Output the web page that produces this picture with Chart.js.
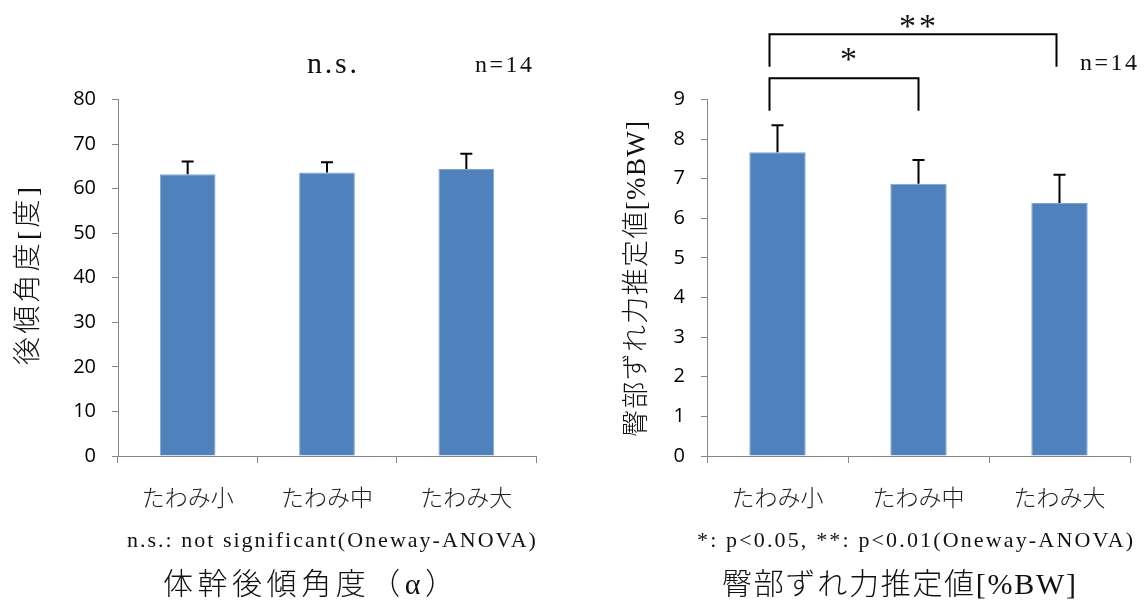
<!DOCTYPE html>
<html>
<head>
<meta charset="utf-8">
<script src="https://cdn.jsdelivr.net/npm/chart.js@4.4.1/dist/chart.umd.min.js"></script>
<style>
  html, body { margin: 0; padding: 0; background: #ffffff; }
  #wrap { position: relative; width: 1146px; height: 608px; overflow: hidden; }
  canvas { position: absolute; top: 0; }
</style>
</head>
<body>
<div id="wrap">
  <canvas id="angle" width="573" height="608" style="left:0"></canvas>
  <canvas id="shear" width="573" height="608" style="left:573px"></canvas>
</div>
<script>
// Conditions (seat sag) shared by both panels
const categories = ['たわみ小', 'たわみ中', 'たわみ大'];

// Trunk recline angle [deg]: mean and SD
const trunkAngleMean = [63.2, 63.6, 64.4];
const trunkAngleSD = [2.9, 2.3, 3.4];
const angleTickValues = [0, 10, 20, 30, 40, 50, 60, 70, 80];

// Estimated buttock shear force [%BW]: mean and SD
const shearMean = [7.67, 6.87, 6.39];
const shearSD = [0.68, 0.60, 0.71];
const shearTickValues = [0, 1, 2, 3, 4, 5, 6, 7, 8, 9];

// Significant pairs (category index from, to, mark)
const shearPairs = [[0, 2, '**'], [0, 1, '*']];

const BAR = '#4f81bd';
const BAR_EDGE = '#7ea3d3';
const AXIS = '#868686';
const SERIF = "'Liberation Serif', 'Noto Sans CJK JP', serif";
const CJK = "'Noto Sans CJK JP', 'Liberation Serif', sans-serif";

// Draw text stretched with letter spacing so it spans a given width
function drawSpaced(ctx, text, x, y, font, width, opts = {}) {
  ctx.save();
  ctx.font = font;
  ctx.fillStyle = opts.color || '#111';
  ctx.textBaseline = opts.baseline || 'alphabetic';
  ctx.textAlign = 'left';
  ctx.letterSpacing = '0px';
  const n = [...text].length;
  const w = ctx.measureText(text).width;
  const ls = width ? (width - w) / Math.max(n - 1, 1) : 0;
  ctx.letterSpacing = ls.toFixed(2) + 'px';
  if (opts.rotate) {
    ctx.translate(x, y);
    ctx.rotate(-Math.PI / 2);
    ctx.fillText(text, -width / 2, 0);
  } else {
    ctx.fillText(text, x, y);
  }
  ctx.restore();
}

// Upper error bars (mean + SD) with a short cap
const errorBars = {
  id: 'errorBars',
  afterDatasetsDraw(chart) {
    const ctx = chart.ctx;
    const ys = chart.scales.y;
    chart.data.datasets.forEach((ds, di) => {
      const meta = chart.getDatasetMeta(di);
      meta.data.forEach((bar, i) => {
        const top = ys.getPixelForValue(ds.data[i] + ds.sd[i]);
        ctx.save();
        ctx.strokeStyle = '#000';
        ctx.lineWidth = 2;
        ctx.beginPath();
        ctx.moveTo(bar.x, bar.y);
        ctx.lineTo(bar.x, top);
        ctx.moveTo(bar.x - 6, top);
        ctx.lineTo(bar.x + 6, top);
        ctx.stroke();
        ctx.restore();
      });
    });
  }
};

// Free text: axis title, sample size, footnote, panel caption
const notes = {
  id: 'notes',
  afterDraw(chart, args, o) {
    const ctx = chart.ctx;
    (o.items || []).forEach(it => drawSpaced(ctx, it.text, it.x, it.y, it.font, it.width, it));
  }
};

// Significance brackets between category pairs
const brackets = {
  id: 'brackets',
  afterDraw(chart, args, o) {
    const pairs = o.pairs || [];
    if (!pairs.length) return;
    const ctx = chart.ctx;
    const xs = chart.scales.x;
    pairs.forEach(([a, b, mark], k) => {
      const x1 = xs.getPixelForValue(a) - 8;
      const x2 = xs.getPixelForValue(b) - (k === 0 ? 3 : 0);
      const yTop = o.lineY[k];
      const yEnd = yTop + o.drop;
      ctx.save();
      ctx.strokeStyle = '#000';
      ctx.lineWidth = 2;
      ctx.beginPath();
      ctx.moveTo(x1, yEnd);
      ctx.lineTo(x1, yTop);
      ctx.lineTo(x2, yTop);
      ctx.lineTo(x2, yEnd);
      ctx.stroke();
      ctx.font = "34px " + SERIF;
      ctx.fillStyle = '#111';
      ctx.textAlign = 'center';
      ctx.textBaseline = 'alphabetic';
      ctx.letterSpacing = '3px';
      ctx.fillText(mark, (x1 + x2) / 2 + 6, o.markY[k]);
      ctx.restore();
    });
  }
};

function barChart(id, cfg) {
  const ticks = cfg.tickValues;
  return new Chart(document.getElementById(id), {
    type: 'bar',
    data: {
      labels: categories,
      datasets: [{
        data: cfg.values,
        sd: cfg.sd,
        backgroundColor: BAR,
        borderColor: BAR_EDGE,
        borderWidth: 1,
        barPercentage: 0.4,
        categoryPercentage: 1.0
      }]
    },
    options: {
      responsive: false,
      animation: false,
      layout: { padding: { left: 0, right: cfg.padRight, top: 99.5, bottom: 0 } },
      plugins: {
        legend: { display: false },
        tooltip: { enabled: false },
        notes: { items: cfg.notes },
        brackets: cfg.brackets || {}
      },
      scales: {
        x: {
          afterFit: s => { s.height = 152; },
          border: { color: AXIS, width: 1 },
          grid: { display: true, drawOnChartArea: false, drawTicks: true, tickLength: 7, color: AXIS, offset: true },
          ticks: { font: { family: CJK, size: 23, weight: '300' }, color: '#222', padding: 20, maxRotation: 0 }
        },
        y: {
          min: ticks[0],
          max: ticks[ticks.length - 1],
          afterFit: s => { s.width = cfg.axisWidth; },
          border: { color: AXIS, width: 1 },
          grid: { display: true, drawOnChartArea: false, drawTicks: true, tickLength: 6, color: AXIS },
          ticks: { stepSize: ticks[1] - ticks[0], font: { family: "'Open Sans', sans-serif", size: 20 }, color: '#000', padding: 16 }
        }
      }
    },
    plugins: [errorBars, notes, brackets]
  });
}

barChart('angle', {
  values: trunkAngleMean,
  sd: trunkAngleSD,
  tickValues: angleTickValues,
  axisWidth: 118,
  padRight: 37,
  notes: [
    { text: '後傾角度[度]', x: 30, y: 276, font: '300 28px ' + SERIF, width: 178, rotate: true, baseline: 'middle' },
    { text: 'n.s.', x: 307, y: 73, font: '30px ' + SERIF, width: 50 },
    { text: 'n=14', x: 475, y: 72, font: '24px ' + SERIF, width: 57 },
    { text: 'n.s.: not significant(Oneway-ANOVA)', x: 127, y: 547, font: '22px ' + SERIF, width: 409 },
    { text: '体幹後傾角度（α）', x: 163, y: 586, font: '300 30px ' + SERIF, width: 292, baseline: 'middle' }
  ]
});

barChart('shear', {
  values: shearMean,
  sd: shearSD,
  tickValues: shearTickValues,
  axisWidth: 134,
  padRight: 16,
  brackets: { pairs: shearPairs, lineY: [34.3, 78.3], drop: 32.4, markY: [37, 70] },
  notes: [
    { text: '臀部ずれ力推定値[%BW]', x: 65, y: 279, font: '300 27px ' + SERIF, width: 316, rotate: true, baseline: 'middle' },
    { text: 'n=14', x: 507, y: 70, font: '24px ' + SERIF, width: 57 },
    { text: '*: p<0.05, **: p<0.01(Oneway-ANOVA)', x: 124, y: 547, font: '22px ' + SERIF, width: 436 },
    { text: '臀部ずれ力推定値[%BW]', x: 149, y: 586, font: '300 30px ' + SERIF, width: 354, baseline: 'middle' }
  ]
});
</script>
</body>
</html>
